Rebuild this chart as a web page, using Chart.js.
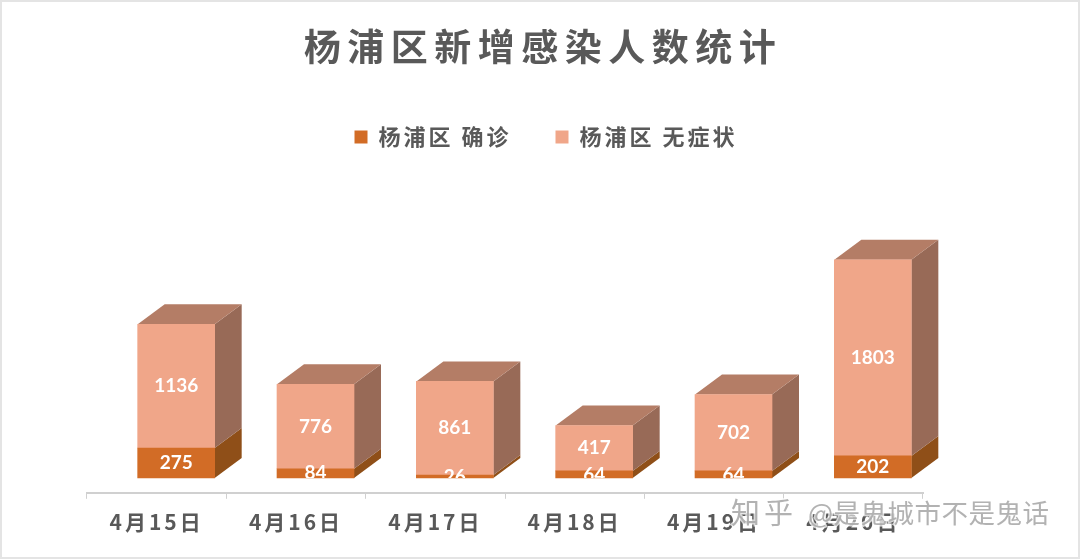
<!DOCTYPE html>
<html>
<head>
<meta charset="utf-8">
<title>杨浦区新增感染人数统计</title>
<script src="https://cdn.jsdelivr.net/npm/chart.js@4/dist/chart.umd.js"></script>
<style>
html, body { margin: 0; padding: 0; background: #fff; }
#wrap { position: relative; width: 1080px; height: 559px; overflow: hidden; }
</style>
</head>
<body>
<div id="wrap"><canvas id="chart" width="1080" height="559"></canvas></div>
<script>
var chartTitle = "杨浦区新增感染人数统计";
var watermarkSite = "知乎";
var watermarkName = "@是鬼城市不是鬼话";
var categories = ["4月15日", "4月16日", "4月17日", "4月18日", "4月19日", "4月20日"];
var barSlots = [0, 1, 2, 3, 4, 5];
var confirmedName = "杨浦区 确诊";
var confirmedValues = [275, 84, 26, 64, 64, 202];
var asymptomaticName = "杨浦区 无症状";
var asymptomaticValues = [1136, 776, 861, 417, 702, 1803];

var CJK = '"Noto Sans CJK SC", sans-serif';
var DEPTH_X = 27, DEPTH_Y = 20;

function toPoints(values) {
    return values.map(function (v, i) { return { x: barSlots[i], y: v }; });
}

function face(ctx, pts, color) {
    ctx.fillStyle = color;
    ctx.beginPath();
    ctx.moveTo(pts[0][0], pts[0][1]);
    for (var i = 1; i < pts.length; i++) ctx.lineTo(pts[i][0], pts[i][1]);
    ctx.closePath();
    ctx.fill();
}

// draws the top and side of each bar from the bar elements
var boxSides = {
    id: 'boxSides',
    beforeDatasetsDraw: function (chart) {
        var ctx = chart.ctx;
        var last = chart.data.datasets.length - 1;
        chart.data.datasets.forEach(function (ds, d) {
            chart.getDatasetMeta(d).data.forEach(function (bar) {
                var p = bar.getProps(['x', 'y', 'base', 'width'], true);
                var l = p.x - p.width / 2, r = p.x + p.width / 2;
                face(ctx, [[r, p.y], [r + DEPTH_X, p.y - DEPTH_Y], [r + DEPTH_X, p.base - DEPTH_Y], [r, p.base]], ds.sideColor);
                if (d === last) {
                    face(ctx, [[l, p.y], [l + DEPTH_X, p.y - DEPTH_Y], [r + DEPTH_X, p.y - DEPTH_Y], [r, p.y]], ds.topColor);
                }
            });
        });
    }
};

// value labels, cut off at the bottom of the bars like the original
var valueLabels = {
    id: 'valueLabels',
    afterDatasetsDraw: function (chart) {
        var ctx = chart.ctx;
        var zero = chart.scales.y.getPixelForValue(0);
        ctx.save();
        ctx.letterSpacing = '0px';
        ctx.beginPath();
        ctx.rect(0, 0, chart.width, zero);
        ctx.clip();
        ctx.fillStyle = '#fff';
        ctx.font = 'bold 19px Lato, sans-serif';
        ctx.textAlign = 'center';
        ctx.textBaseline = 'middle';
        chart.data.datasets.forEach(function (ds, d) {
            chart.getDatasetMeta(d).data.forEach(function (bar, i) {
                var p = bar.getProps(['x', 'y', 'base'], true);
                ctx.fillText(ds.data[i].y, p.x, (p.y + p.base) / 2);
            });
        });
        ctx.restore();
    }
};

function drawMark(ctx, text, x) {
    ctx.strokeText(text, x, 513);
    ctx.fillText(text, x, 513);
}

var spacedText = {
    id: 'spacedText',
    beforeLayout: function (chart) { chart.ctx.letterSpacing = '3px'; },
    afterLayout: function (chart) {
        // the legend sits centred on the page's bars, not on the axis
        chart.legend.left += 41;
        chart.legend.right += 41;
    },
    beforeDraw: function (chart) {
        var ctx = chart.ctx;
        ctx.letterSpacing = '3px';
        ctx.save();
        ctx.strokeStyle = '#e4e4e4';
        ctx.lineWidth = 2;
        ctx.strokeRect(1, 1, chart.width - 2, chart.height - 2);
        ctx.letterSpacing = '6.5px';
        ctx.fillStyle = '#595959';
        ctx.font = 'bold 37px ' + CJK;
        ctx.textAlign = 'center';
        ctx.textBaseline = 'middle';
        ctx.fillText(chartTitle, 543, 47);
        ctx.restore();
    },
    afterDraw: function (chart) {
        var ctx = chart.ctx;
        ctx.save();
        ctx.textAlign = 'left';
        ctx.textBaseline = 'middle';
        ctx.lineWidth = 3;
        ctx.strokeStyle = 'rgba(255,255,255,0.75)';
        ctx.fillStyle = 'rgba(170,170,170,0.9)';
        ctx.letterSpacing = '4px';
        ctx.font = '29px ' + CJK;
        drawMark(ctx, watermarkSite, 731);
        ctx.letterSpacing = '0.5px';
        ctx.font = '26.5px ' + CJK;
        drawMark(ctx, watermarkName, 808);
        ctx.restore();
    }
};

new Chart(document.getElementById('chart').getContext('2d'), {
    type: 'bar',
    data: {
        datasets: [
            {
                label: confirmedName,
                data: toPoints(confirmedValues),
                backgroundColor: '#D26C26',
                sideColor: '#8F4F18',
                barThickness: 77
            },
            {
                label: asymptomaticName,
                data: toPoints(asymptomaticValues),
                backgroundColor: '#F0A689',
                sideColor: '#986A57',
                topColor: '#B47D66',
                barThickness: 77
            }
        ]
    },
    options: {
        responsive: false,
        animation: false,
        layout: { padding: { left: 87, right: 157, top: 82, bottom: 13 } },
        plugins: {
            title: { display: false },
            tooltip: { enabled: false },
            legend: {
                position: 'top',
                align: 'center',
                labels: {
                    boxWidth: 13,
                    boxHeight: 13,
                    padding: 44,
                    color: '#595959',
                    font: { family: CJK, size: 22, weight: 'bold' }
                }
            }
        },
        scales: {
            x: {
                type: 'linear',
                stacked: true,
                offset: false,
                display: false,
                min: -0.64,
                max: 5.36
            },
            labelsX: {
                type: 'category',
                axis: 'x',
                position: 'bottom',
                labels: categories,
                offset: true,
                border: { color: '#d0d0d0', width: 2 },
                grid: { drawOnChartArea: false, drawTicks: true, tickLength: 6, tickColor: '#d0d0d0', tickWidth: 1 },
                ticks: {
                    color: '#595959',
                    padding: 11,
                    maxRotation: 0,
                    font: { family: CJK, size: 21, weight: 'bold' }
                }
            },
            y: {
                stacked: true,
                display: false,
                min: -137,
                max: 2940
            }
        }
    },
    plugins: [spacedText, boxSides, valueLabels]
});
</script>
</body>
</html>
